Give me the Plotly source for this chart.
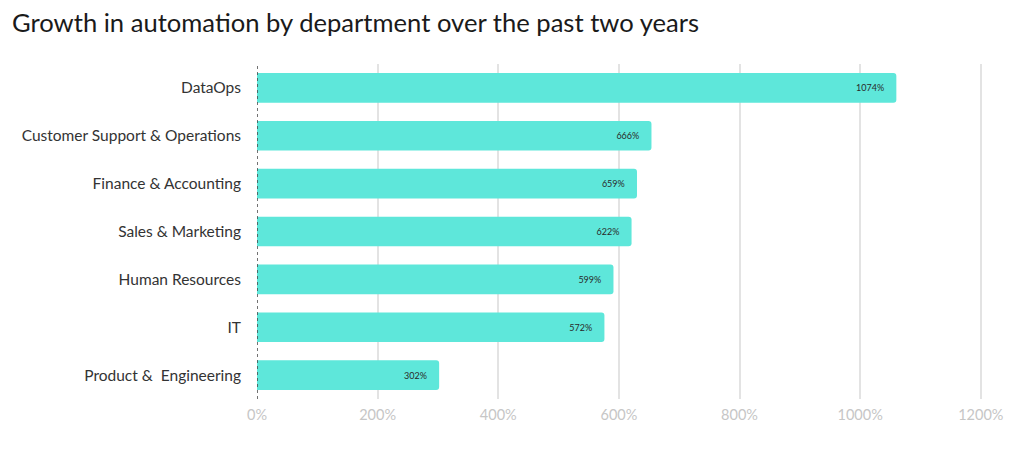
import plotly.graph_objects as go

departments = [
    "DataOps",
    "Customer Support & Operations",
    "Finance & Accounting",
    "Sales & Marketing",
    "Human Resources",
    "IT",
    "Product &\u00a0 Engineering",
]
# bar lengths as drawn in the picture (percent)
bar_lengths = [1060, 654, 630, 621, 591, 576, 302]
# value labels printed on the bars
value_labels = ["1074%", "666%", "659%", "622%", "599%", "572%", "302%"]
x_ticks = [0, 200, 400, 600, 800, 1000, 1200]
x_tick_text = ["0%", "200%", "400%", "600%", "800%", "1000%", "1200%"]

FONT = "Lato"
OFF = 8  # default page margin of the browser body

fig = go.Figure(
    go.Bar(
        x=bar_lengths,
        y=departments,
        orientation="h",
        marker=dict(color="#5ee7da", line=dict(width=0)),
        width=0.62,
        text=[t + "\u00a0\u00a0\u00a0\u00a0" for t in value_labels],
        textposition="inside",
        insidetextanchor="end",
        textfont=dict(family=FONT, size=9, color="#2a2a2a"),
        cliponaxis=False,
        hoverinfo="skip",
    )
)

fig.add_shape(
    type="line", xref="x", yref="paper",
    x0=0, x1=0, y0=0, y1=1,
    line=dict(color="#444444", width=1.5, dash="dot"),
    layer="above",
)

W, H = 1024, 459
left, top, plot_w, plot_h = 257 - OFF, 64 - OFF, 725, 335
fig.update_layout(
    width=W,
    height=H,
    margin=dict(l=left, r=W - left - plot_w, t=top, b=H - top - plot_h, autoexpand=False),
    paper_bgcolor="white",
    plot_bgcolor="white",
    barcornerradius=3,
    showlegend=False,
    title=dict(
        text="Growth in automation by department over the past two years",
        x=(12 - OFF) / W, xanchor="left", xref="container",
        y=1 - (23 - OFF) / H, yanchor="middle", yref="container",
        font=dict(family=FONT, size=25.6, color="#1a1a1a"),
        automargin=False,
    ),
    uniformtext=dict(minsize=9, mode="show"),
)

fig.update_xaxes(
    range=[0, 1202],
    tickvals=x_ticks,
    ticktext=x_tick_text,
    showgrid=True,
    gridcolor="#e3e3e3",
    gridwidth=1.5,
    zeroline=False,
    showline=False,
    ticks="",
    ticklabelstandoff=5,
    tickfont=dict(family=FONT, size=14.5, color="#c6c6c6"),
    automargin=False,
    fixedrange=True,
)
fig.update_yaxes(
    categoryorder="array",
    categoryarray=departments,
    autorange="reversed",
    showgrid=False,
    zeroline=False,
    showline=False,
    ticks="",
    ticklabelstandoff=15,
    tickfont=dict(family=FONT, size=15.5, color="#333333"),
    automargin=False,
    fixedrange=True,
)

fig.write_html("out.html")
